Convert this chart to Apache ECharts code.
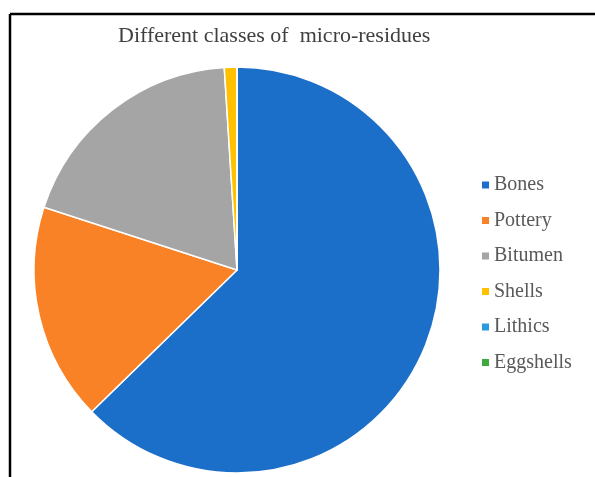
<!DOCTYPE html>
<html>
<head>
<meta charset="utf-8">
<script src="https://cdn.jsdelivr.net/npm/echarts@6/dist/echarts.min.js"></script>
<style>
html,body{margin:0;padding:0;background:#fff;}
#chart{width:595px;height:477px;}
</style>
</head>
<body>
<div id="chart"></div>
<script>
const titleText = 'Different classes of  micro-residues';
const categories = ['Bones', 'Pottery', 'Bitumen', 'Shells', 'Lithics', 'Eggshells'];
const values = [62.7, 17.3, 19.0, 1.0, 0, 0];
const colors = ['#1B6FC8', '#F98126', '#A5A5A5', '#FFC000', '#2A9BE0', '#3DAA3D'];

const chart = echarts.init(document.getElementById('chart'), null, {renderer: 'canvas'});
chart.setOption({
  animation: false,
  backgroundColor: '#ffffff',
  title: {
    text: titleText,
    left: 113,
    top: 20,
    textStyle: {fontFamily: 'Liberation Serif', fontSize: 22, fontWeight: 'normal', color: '#404040'}
  },
  legend: {
    orient: 'vertical',
    left: 475,
    top: 170,
    icon: 'rect',
    itemWidth: 9,
    itemHeight: 9,
    itemGap: 15.5,
    data: categories,
    textStyle: {fontFamily: 'Liberation Serif', fontSize: 20, lineHeight: 20, color: '#595959', padding: [0,0,0,-1]}
  },
  graphic: [
    {type: 'line', shape: {x1: 10, y1: 14, x2: 595, y2: 14}, style: {stroke: '#000', lineWidth: 2.5}},
    {type: 'line', shape: {x1: 10, y1: 14, x2: 10, y2: 477}, style: {stroke: '#000', lineWidth: 2.5}}
  ],
  series: [{
    type: 'pie',
    center: [237, 270],
    radius: [0, 203],
    startAngle: 90,
    clockwise: true,
    label: {show: false},
    labelLine: {show: false},
    itemStyle: {borderColor: '#ffffff', borderWidth: 1.5},
    emphasis: {disabled: true},
    data: categories.map((c, i) => ({name: c, value: values[i], itemStyle: {color: colors[i]}}))
  }]
});
</script>
</body>
</html>
